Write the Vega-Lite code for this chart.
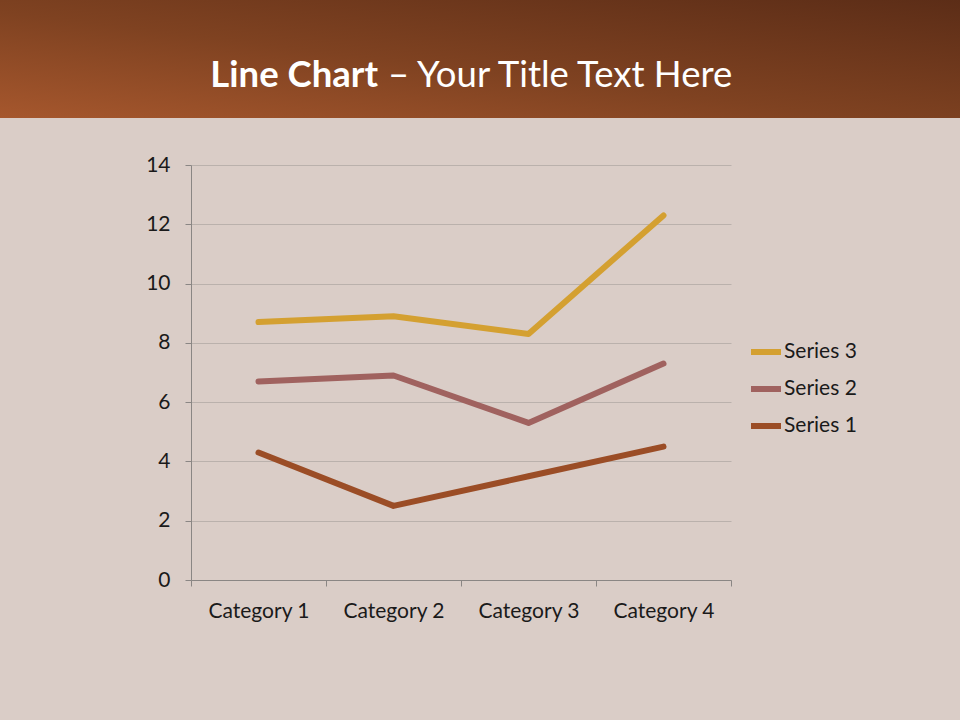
{
  "$schema": "https://vega.github.io/schema/vega-lite/v6.json",
  "background": "#dacdc7",
  "padding": {"left": 0, "top": 0, "right": 0, "bottom": 100},
  "spacing": 36,
  "config": {"view": {"stroke": null}},
  "vconcat": [
    {
      "width": 960,
      "height": 118,
      "view": {
        "stroke": null,
        "fill": {
          "gradient": "linear",
          "x1": 0, "y1": 1, "x2": 1, "y2": 0,
          "stops": [
            {"offset": 0, "color": "#a6572d"},
            {"offset": 0.45, "color": "#7f4221"},
            {"offset": 1, "color": "#5c2d17"}
          ]
        }
      },
      "layer": [
        {
          "data": {"values": [{"label": "Line Chart"}]},
          "mark": {"type": "text", "font": "Lato", "fontWeight": "bold", "fontSize": 36.5, "color": "#ffffff", "align": "right", "baseline": "alphabetic", "dx": -102, "dy": 28},
          "encoding": {"text": {"field": "label", "type": "nominal"}}
        },
        {
          "data": {"values": [{"label": "– Your Title Text Here"}]},
          "mark": {"type": "text", "font": "Lato", "fontWeight": "normal", "fontSize": 36.5, "color": "#ffffff", "align": "left", "baseline": "alphabetic", "dx": -92, "dy": 28},
          "encoding": {"text": {"field": "label", "type": "nominal"}}
        }
      ]
    },
    {
      "spacing": 45,
      "hconcat": [
        {
          "width": 100,
          "height": 10,
          "data": {"values": [{"label": ""}]},
          "mark": {"type": "text"},
          "encoding": {"text": {"field": "label", "type": "nominal"}}
        },
        {
          "width": 540,
          "height": 415,
          "data": {
            "values": [
              {"category": "Category 1", "series": "Series 1", "value": 4.3},
              {"category": "Category 2", "series": "Series 1", "value": 2.5},
              {"category": "Category 3", "series": "Series 1", "value": 3.5},
              {"category": "Category 4", "series": "Series 1", "value": 4.5},
              {"category": "Category 1", "series": "Series 2", "value": 6.7},
              {"category": "Category 2", "series": "Series 2", "value": 6.9},
              {"category": "Category 3", "series": "Series 2", "value": 5.3},
              {"category": "Category 4", "series": "Series 2", "value": 7.3},
              {"category": "Category 1", "series": "Series 3", "value": 8.7},
              {"category": "Category 2", "series": "Series 3", "value": 8.9},
              {"category": "Category 3", "series": "Series 3", "value": 8.3},
              {"category": "Category 4", "series": "Series 3", "value": 12.3}
            ]
          },
          "mark": {"type": "line", "strokeWidth": 6, "strokeCap": "round", "strokeJoin": "round"},
          "encoding": {
            "x": {
              "field": "category",
              "type": "nominal",
              "scale": {"type": "band", "paddingInner": 0, "paddingOuter": 0},
              "axis": {
                "title": null,
                "labelAngle": 0,
                "labelFont": "Lato",
                "labelFontSize": 21,
                "labelColor": "#1a1a1a",
                "labelPadding": 14,
                "tickBand": "extent",
                "tickSize": 6,
                "tickColor": "#8a8684",
                "domainColor": "#8a8684",
                "grid": false
              }
            },
            "y": {
              "field": "value",
              "type": "quantitative",
              "scale": {"domain": [0, 14], "nice": false},
              "axis": {
                "title": null,
                "values": [0, 2, 4, 6, 8, 10, 12, 14],
                "labelFont": "Lato",
                "labelFontSize": 21,
                "labelColor": "#1a1a1a",
                "labelPadding": 15,
                "tickSize": 6,
                "tickColor": "#8a8684",
                "domainColor": "#8a8684",
                "grid": true,
                "gridColor": "#bab1ac",
                "gridWidth": 1
              }
            },
            "color": {
              "field": "series",
              "type": "nominal",
              "scale": {"domain": ["Series 3", "Series 2", "Series 1"], "range": ["#d4a031", "#a0625f", "#9b4d26"]},
              "legend": {
                "title": null,
                "orient": "none",
                "legendX": 748,
                "legendY": 334,
                "symbolType": "stroke",
                "symbolSize": 900,
                "symbolStrokeWidth": 6,
                "labelFont": "Lato",
                "labelFontSize": 21,
                "labelColor": "#1a1a1a",
                "labelOffset": 0,
                "rowPadding": 7
              }
            }
          }
        }
      ]
    }
  ]
}
